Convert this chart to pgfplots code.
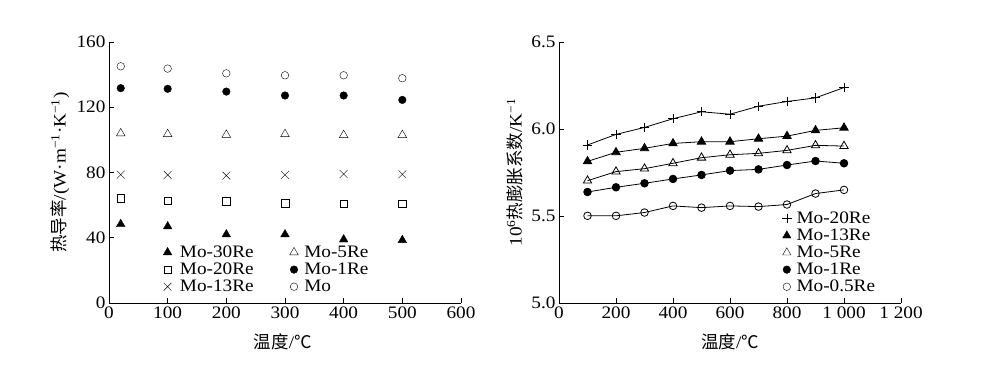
\documentclass[border=0pt]{standalone}
\usepackage{fontspec}
\setmainfont[FakeStretch=1.1]{Liberation Serif}
\newfontfamily\cjk{Noto Sans CJK SC}
\usepackage{pgfplots}
\pgfplotsset{compat=1.18}
\newcommand{\fs}{\fontsize{17.5}{20}\selectfont}
\pgfplotsset{
 myax/.style={
  scale only axis, axis lines*=left, tick align=inside, tick pos=left,
  major tick length=5pt,
  every tick/.style={black, line width=0.8pt},
  axis line style={line width=0.8pt, black},
  /pgf/number format/assume math mode=true,
  tick label style={font=\fs},
  label style={font=\fs},
  legend style={draw=none, fill=none, font=\fs},
  legend cell align=left,
 }
}
\begin{document}
\begin{tikzpicture}[x=1pt,y=1pt]
\path[use as bounding box] (0,0) rectangle (1006,364);
\begin{axis}[myax, at={(109pt,61pt)}, anchor=south west,
  width=352pt, height=261pt,
  xmin=0, xmax=600, ymin=0, ymax=160,
  xtick={0,100,...,600}, ytick={0,40,...,160},
  xlabel={{\cjk 温度}/{\cjk ℃}},
  ylabel={{\cjk 热导率}/(W·m\textsuperscript{−1}·K\textsuperscript{−1})},
  xlabel style={at={(axis description cs:0.494,-0.149)}, anchor=center},
  ylabel style={at={(axis description cs:-0.139,0.5)}, anchor=center},
  legend columns=3, transpose legend,
  legend style={at={(axis description cs:0.145,0.235)}, anchor=north west,
    /tikz/every even column/.append style={column sep=34pt}},
]
\addplot[only marks, black, mark=triangle*, mark size=5pt] coordinates {(20,48.3) (100,46.9) (200,42) (300,42) (400,38.9) (500,38.5)};
\addlegendentry{\hspace{6pt}Mo-30Re}
\addplot[only marks, black, mark=square, mark size=3.7pt] coordinates {(20,64.2) (100,62.8) (200,62.4) (300,61.1) (400,60.7) (500,60.7)};
\addlegendentry{\hspace{6pt}Mo-20Re}
\addplot[only marks, black, mark=x, mark size=5.5pt] coordinates {(20,78.7) (100,78.5) (200,78.1) (300,78.5) (400,79.1) (500,78.9)};
\addlegendentry{\hspace{6pt}Mo-13Re}
\addplot[only marks, black, mark=triangle, mark size=5pt] coordinates {(20,104) (100,103.5) (200,103.1) (300,103.5) (400,102.9) (500,102.9)};
\addlegendentry{\hspace{4pt}Mo-5Re}
\addplot[only marks, black, mark=*, mark size=3.8pt] coordinates {(20,131.7) (100,131.3) (200,129.6) (300,127.2) (400,127.2) (500,124.5)};
\addlegendentry{\hspace{4pt}Mo-1Re}
\addplot[only marks, black, mark=o, mark size=3.8pt] coordinates {(20,145.1) (100,143.7) (200,140.8) (300,139.6) (400,139.6) (500,137.8)};
\addlegendentry{\hspace{4pt}Mo}
\end{axis}

\begin{axis}[myax, at={(559pt,61pt)}, anchor=south west,
  width=342pt, height=261pt,
  xmin=0, xmax=1200, ymin=5.0, ymax=6.5,
  xtick={0,200,...,1200}, ytick={5.0,5.5,6.0,6.5},
  xticklabels={0,200,400,600,800,1\ 000,1\ 200},
  yticklabel style={/pgf/number format/fixed, /pgf/number format/fixed zerofill, /pgf/number format/precision=1},
  xlabel={{\cjk 温度}/{\cjk ℃}},
  ylabel={10\textsuperscript{6}{\cjk 热膨胀系数}/K\textsuperscript{−1}},
  xlabel style={at={(axis description cs:0.5,-0.149)}, anchor=center},
  ylabel style={at={(axis description cs:-0.129,0.5)}, anchor=center},
  legend style={at={(axis description cs:0.643,0.365)}, anchor=north west},
]
\addlegendimage{only marks, black, mark=+, mark size=4.7pt}
\addlegendentry{\hspace{3pt}Mo-20Re}
\addlegendimage{only marks, black, mark=triangle*, mark size=4.8pt}
\addlegendentry{\hspace{3pt}Mo-13Re}
\addlegendimage{only marks, black, mark=triangle, mark size=4.8pt}
\addlegendentry{\hspace{3pt}Mo-5Re}
\addlegendimage{only marks, black, mark=*, mark size=3.8pt}
\addlegendentry{\hspace{3pt}Mo-1Re}
\addlegendimage{only marks, black, mark=o, mark size=3.8pt}
\addlegendentry{\hspace{3pt}Mo-0.5Re}
\addplot[black, line width=0.8pt, mark=+, mark size=4.7pt, forget plot] coordinates {(100,5.908) (200,5.969) (300,6.009) (400,6.059) (500,6.099) (600,6.085) (700,6.131) (800,6.158) (900,6.179) (1000,6.238)};
\addplot[black, line width=0.8pt, mark=triangle*, mark size=4.8pt, forget plot] coordinates {(100,5.814) (200,5.866) (300,5.889) (400,5.917) (500,5.927) (600,5.927) (700,5.944) (800,5.959) (900,5.992) (1000,6.007)};
\addplot[black, line width=0.8pt, mark=triangle, mark size=4.8pt, mark options={fill=white}, forget plot] coordinates {(100,5.703) (200,5.755) (300,5.772) (400,5.803) (500,5.835) (600,5.852) (700,5.860) (800,5.877) (900,5.906) (1000,5.902)};
\addplot[black, line width=0.8pt, mark=*, mark size=3.8pt, forget plot] coordinates {(100,5.638) (200,5.665) (300,5.688) (400,5.713) (500,5.736) (600,5.761) (700,5.768) (800,5.793) (900,5.816) (1000,5.803)};
\addplot[black, line width=0.8pt, mark=o, mark size=3.8pt, mark options={fill=white}, forget plot] coordinates {(100,5.501) (200,5.501) (300,5.520) (400,5.558) (500,5.548) (600,5.558) (700,5.554) (800,5.566) (900,5.629) (1000,5.650)};
\end{axis}
\end{tikzpicture}
\end{document}
